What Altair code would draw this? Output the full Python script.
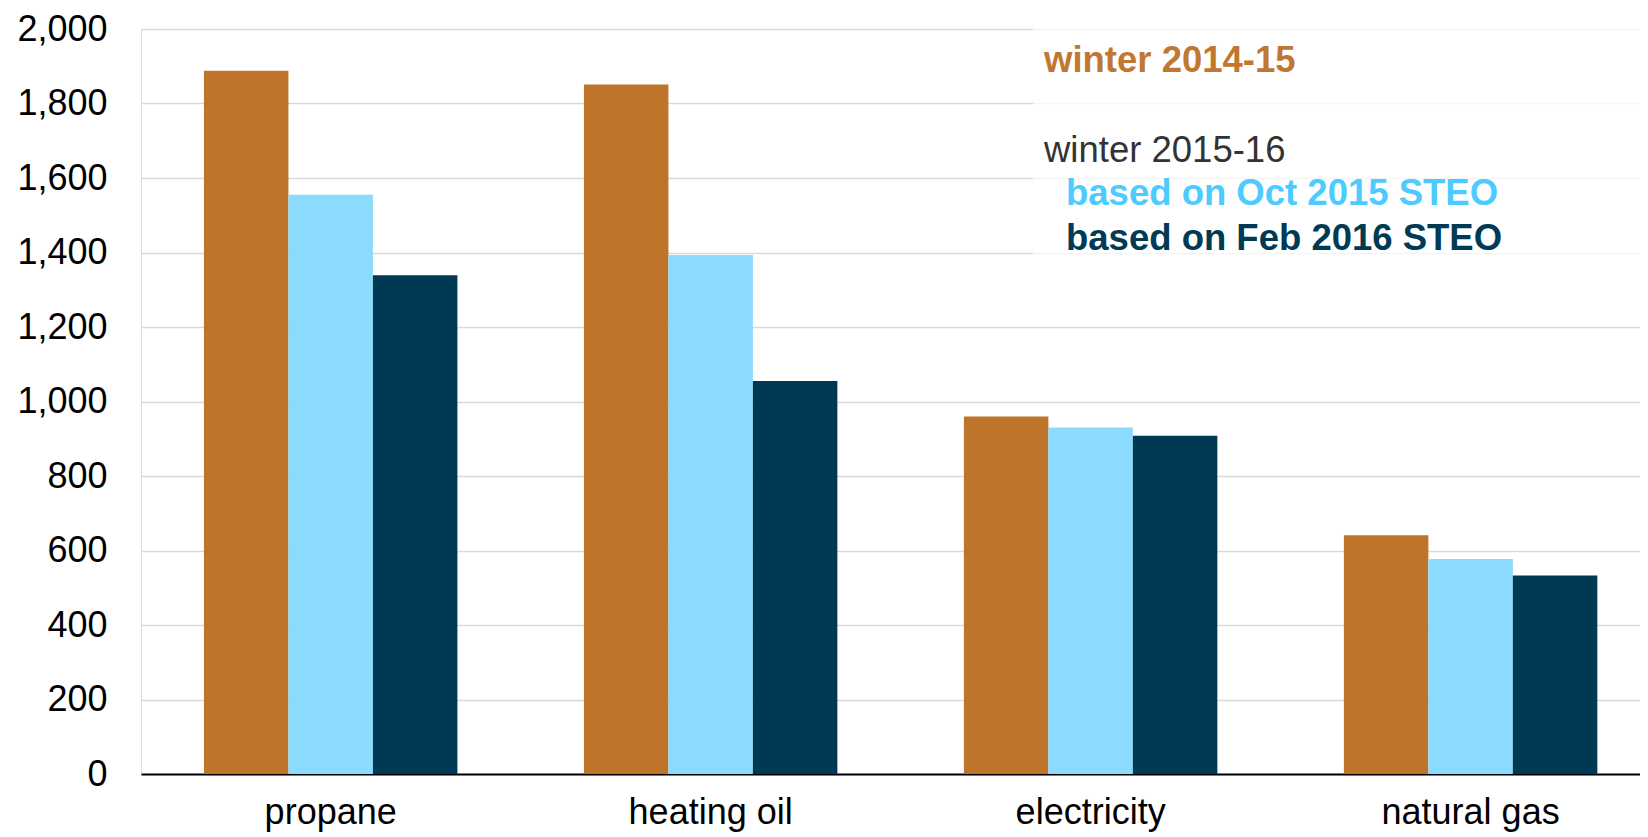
import altair as alt
import pandas as pd

categories = ["propane", "heating oil", "electricity", "natural gas"]
series = ["winter 2014-15", "Oct 2015 STEO", "Feb 2016 STEO"]
values_2014_15 = [1888, 1851, 960, 641]
values_oct_2015 = [1555, 1393, 930, 577]
values_feb_2016 = [1339, 1055, 908, 533]
y_ticks = [0, 200, 400, 600, 800, 1000, 1200, 1400, 1600, 1800, 2000]

legend_title_1 = "winter 2014-15"
legend_title_2 = "winter 2015-16"
legend_sub_1 = "based on Oct 2015 STEO"
legend_sub_2 = "based on Feb 2016 STEO"

bar_colors = ["#BE742B", "#8ADBFE", "#003953"]

rows = []
for s, vals in zip(series, [values_2014_15, values_oct_2015, values_feb_2016]):
    for c, v in zip(categories, vals):
        rows.append({"category": c, "series": s, "value": v})
df = pd.DataFrame(rows)

W, H = 1499, 745
FONT = "Liberation Sans"

bars = alt.Chart(df).mark_bar().encode(
    x=alt.X("category:N", sort=categories, title=None,
            scale=alt.Scale(paddingInner=0.333, paddingOuter=0.139, align=0.596),
            axis=alt.Axis(labelAngle=0, labelFontSize=36, labelFont=FONT, labelColor="#000000",
                          ticks=False, domainColor="#000000", domainWidth=2,
                          labelPadding=21, grid=False)),
    xOffset=alt.XOffset("series:N", sort=series,
                        scale=alt.Scale(paddingInner=0, paddingOuter=0)),
    y=alt.Y("value:Q", title=None,
            scale=alt.Scale(domain=[0, 2000], nice=False),
            axis=alt.Axis(values=y_ticks, format=",d", labelFontSize=36, labelFont=FONT,
                          labelColor="#000000", ticks=False, domain=False, labelPadding=34,
                          gridColor="#d9d9d9", gridWidth=1.5)),
    color=alt.Color("series:N", sort=series,
                    scale=alt.Scale(domain=series, range=bar_colors), legend=None),
)

box = alt.Chart(pd.DataFrame({"a": [0]})).mark_rect(color="#ffffff", opacity=0.74).encode(
    x=alt.value(892), x2=alt.value(W), y=alt.value(-21), y2=alt.value(229)
)

def label(text, xpos, ypos, color, bold):
    return alt.Chart(pd.DataFrame({"t": [text]})).mark_text(
        align="left", baseline="alphabetic", font=FONT, fontSize=36.5,
        fontWeight="bold" if bold else "normal", color=color
    ).encode(text="t:N", x=alt.value(xpos), y=alt.value(ypos))

texts = [
    label(legend_title_1, 903, 43, "#C0772F", True),
    label(legend_title_2, 903, 133, "#333333", False),
    label(legend_sub_1, 925, 176, "#4DCBFF", True),
    label(legend_sub_2, 925, 221, "#003A55", True),
]

chart = alt.layer(bars, box, *texts).properties(
    width=W, height=H,
    autosize=alt.AutoSizeParams(type="none"),
    padding={"left": 133, "top": 21, "right": 0, "bottom": 62},
).configure_view(stroke=None).configure(background="#ffffff")

chart.save("out.html", embed_options={"renderer": "svg", "actions": False})
